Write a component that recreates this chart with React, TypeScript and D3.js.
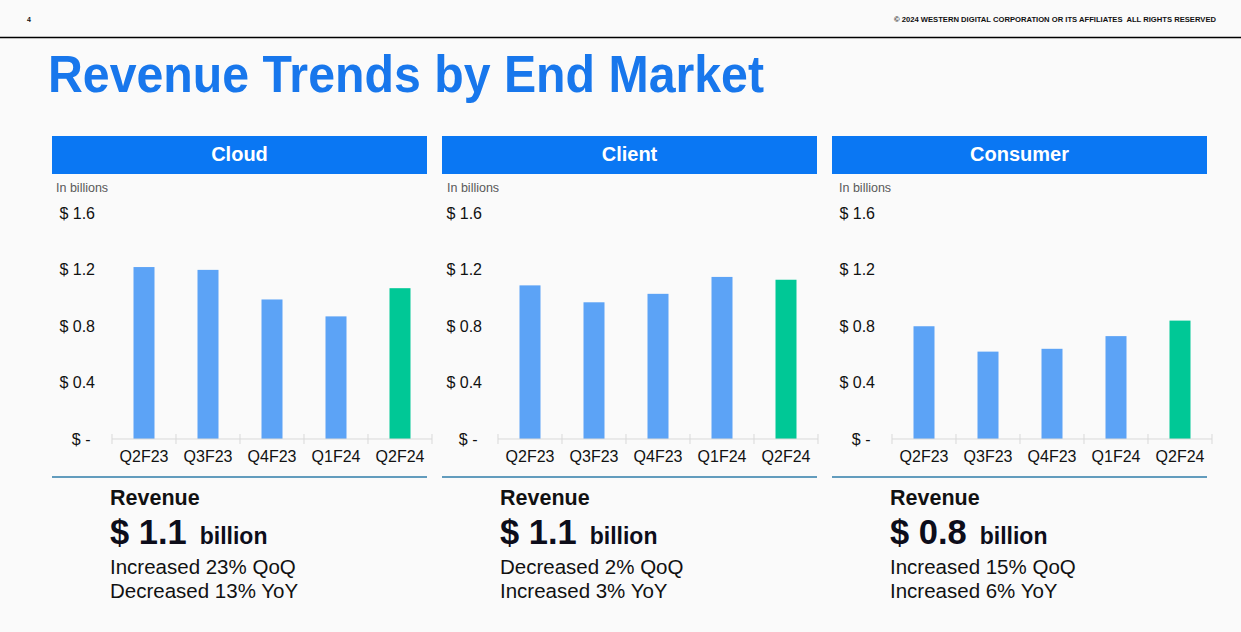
import React from "react";
import * as d3 from "d3";

const categories = ["Q2F23", "Q3F23", "Q4F23", "Q1F24", "Q2F24"];
const segmentNames = ["Cloud", "Client", "Consumer"];
const cloudValues = [1.22, 1.2, 0.99, 0.87, 1.07];
const clientValues = [1.09, 0.97, 1.03, 1.15, 1.13];
const consumerValues = [0.8, 0.62, 0.64, 0.73, 0.84];
const yTicks = [0, 0.4, 0.8, 1.2, 1.6];
const revenueAmounts = ["$ 1.1", "$ 1.1", "$ 0.8"];
const qoqLines = ["Increased 23% QoQ", "Decreased 2% QoQ", "Increased 15% QoQ"];
const yoyLines = ["Decreased 13% YoY", "Increased 3% YoY", "Increased 6% YoY"];

const seriesValues = [cloudValues, clientValues, consumerValues];

const W = 1241;
const H = 632;
const FONT = "'Liberation Sans', Arial, Helvetica, sans-serif";
const BLUE_HEADER = "#0A77F3";
const TITLE_BLUE = "#1877EC";
const BAR_BLUE = "#5CA3F6";
const BAR_GREEN = "#00C896";

const panelX = [52, 442, 832];
const axisX0 = [112, 498, 892];
const tickRight = [95, 482, 875];
const unitX = [56, 447, 839];

function Panel({ i }: { i: number }) {
  const x0 = panelX[i];
  const values = seriesValues[i];
  const xScale = d3
    .scaleBand<string>()
    .domain(categories)
    .range([axisX0[i], axisX0[i] + 320])
    .paddingInner(0.672)
    .paddingOuter(0.336);
  const yScale = d3.scaleLinear().domain([0, 1.6]).range([439, 213.5]);
  const step = xScale.step();
  const bounds = d3.range(categories.length + 1).map((k) => axisX0[i] + k * step);
  const textX = x0 + 58;
  return (
    <g>
      <rect x={x0} y={136} width={375} height={38} fill={BLUE_HEADER} />
      <text
        x={x0 + 187.5}
        y={154}
        dy="0.35em"
        textAnchor="middle"
        fill="#fff"
        fontWeight="bold"
        fontSize={20}
        fontFamily={FONT}
      >
        {segmentNames[i]}
      </text>
      <text x={unitX[i]} y={191.5} fill="#595959" fontSize={12.5} fontFamily={FONT}>
        In billions
      </text>
      {yTicks.map((t) => (
        <text
          key={t}
          x={t === 0 ? tickRight[i] - 4.5 : tickRight[i]}
          y={yScale(t)}
          dy="0.35em"
          textAnchor="end"
          fill="#111"
          fontSize={16}
          fontFamily={FONT}
        >
          {t === 0 ? "$ -" : "$ " + d3.format(".1f")(t)}
        </text>
      ))}
      {categories.map((c, k) => (
        <rect
          key={c}
          x={xScale(c)}
          y={yScale(values[k])}
          width={xScale.bandwidth()}
          height={yScale(0) - yScale(values[k])}
          fill={k === categories.length - 1 ? BAR_GREEN : BAR_BLUE}
        />
      ))}
      <line
        x1={bounds[0]}
        x2={bounds[bounds.length - 1]}
        y1={yScale(0)}
        y2={yScale(0)}
        stroke="#D9D9D9"
        strokeWidth={1}
      />
      {bounds.map((bx, k) => (
        <line key={k} x1={bx} x2={bx} y1={yScale(0) - 5} y2={yScale(0) + 5} stroke="#D9D9D9" strokeWidth={1} />
      ))}
      {categories.map((c) => (
        <text
          key={c}
          x={(xScale(c) as number) + xScale.bandwidth() / 2}
          y={462}
          textAnchor="middle"
          fill="#111"
          fontSize={16}
          fontFamily={FONT}
        >
          {c}
        </text>
      ))}
      <line x1={x0} x2={x0 + 375} y1={477} y2={477} stroke="#2F7CA8" strokeWidth={1.3} />
      <text x={textX} y={504.5} fill="#111" fontWeight="bold" fontSize={21.5} fontFamily={FONT}>
        Revenue
      </text>
      <text x={textX} y={544} fill="#0d0d1a" fontWeight="bold" fontFamily={FONT}>
        <tspan fontSize={34.5}>{revenueAmounts[i]}</tspan>
        <tspan fontSize={23} dx={13}>
          billion
        </tspan>
      </text>
      <text x={textX} y={573.5} fill="#111" fontSize={20.5} fontFamily={FONT}>
        {qoqLines[i]}
      </text>
      <text x={textX} y={598} fill="#111" fontSize={20.5} fontFamily={FONT}>
        {yoyLines[i]}
      </text>
    </g>
  );
}

export default function App() {
  return (
    <svg
      width={W}
      height={H}
      viewBox={`0 0 ${W} ${H}`}
      style={{ position: "absolute", left: 0, top: 0, display: "block" }}
    >
      <rect x={0} y={0} width={W} height={H} fill="#FAFAFA" />
      <text x={27} y={20} dy="0.35em" fontSize={7} fontWeight="bold" fill="#111" fontFamily={FONT}>
        4
      </text>
      <text
        x={1216}
        y={20}
        dy="0.35em"
        textAnchor="end"
        fontSize={6.8}
        fontWeight="bold"
        fill="#111"
        fontFamily={FONT}
        textLength={322}
        lengthAdjust="spacingAndGlyphs"
        style={{ whiteSpace: "pre" }}
      >
        © 2024 WESTERN DIGITAL CORPORATION OR ITS AFFILIATES  ALL RIGHTS RESERVED
      </text>
      <line x1={0} x2={W} y1={37.5} y2={37.5} stroke="#000" strokeWidth={1.5} />
      <text
        x={48}
        y={92}
        fill={TITLE_BLUE}
        fontWeight="bold"
        fontSize={52}
        fontFamily={FONT}
        textLength={716}
        lengthAdjust="spacingAndGlyphs"
      >
        Revenue Trends by End Market
      </text>
      {segmentNames.map((_, i) => (
        <Panel key={i} i={i} />
      ))}
    </svg>
  );
}
